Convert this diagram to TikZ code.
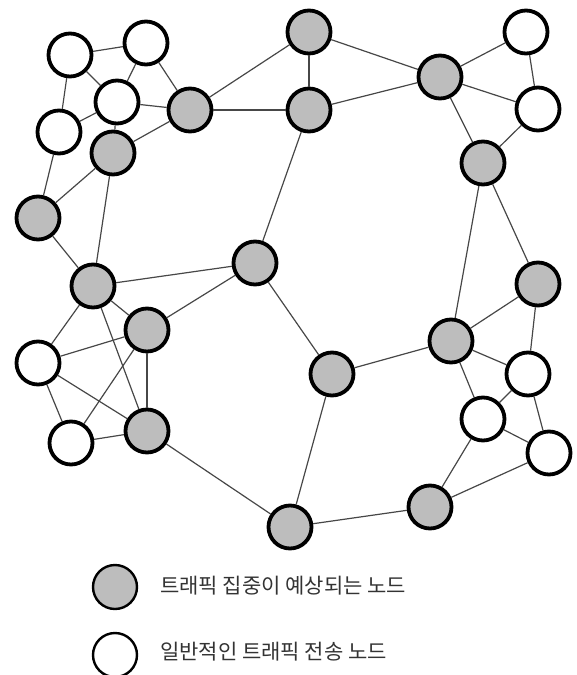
\documentclass[tikz,border=0pt]{standalone}
\usepackage{fontspec}
\newfontfamily\krfont{Noto Sans CJK KR}
\usepackage{tikz}
\tikzset{
  hotnode/.style={
    draw,
    circle,
    line width=3.8pt,
    minimum size=43pt,
    inner sep=0pt,
    fill=gray!52
  },
  plainnode/.style={
    draw,
    circle,
    line width=3.8pt,
    minimum size=43pt,
    inner sep=0pt,
    fill=white
  },
  keynode/.style={
    draw,
    circle,
    line width=2.4pt,
    minimum size=44pt,
    inner sep=0pt
  },
  keytext/.style={
    anchor=west,
    inner sep=0pt,
    text=black!80,
    font=\krfont\fontsize{21}{24}\selectfont
  },
  every edge/.style={draw, line width=1.2pt, black!72}
}

\begin{document}
\begin{tikzpicture}[x=1pt,y=-1pt]
  \useasboundingbox (0,0) rectangle (577,675);

  % traffic hubs
  \node[hotnode] (c1) at (309,32) {};
  \node[hotnode] (c2) at (309,110) {};
  \node[hotnode] (c3) at (190,110) {};
  \node[hotnode] (c4) at (440,77) {};
  \node[hotnode] (c5) at (483,163) {};
  \node[hotnode] (c6) at (113,153) {};
  \node[hotnode] (c7) at (38,218) {};
  \node[hotnode] (c8) at (255,263) {};
  \node[hotnode] (c9) at (93,286) {};
  \node[hotnode] (c10) at (147,330) {};
  \node[hotnode] (c11) at (538,284) {};
  \node[hotnode] (c12) at (451,341) {};
  \node[hotnode] (c13) at (332,374) {};
  \node[hotnode] (c14) at (147,431) {};
  \node[hotnode] (c15) at (290,527) {};
  \node[hotnode] (c16) at (430,507) {};

  % ordinary nodes
  \node[plainnode] (n1) at (70,55) {};
  \node[plainnode] (n2) at (146,43) {};
  \node[plainnode] (n3) at (117,102) {};
  \node[plainnode] (n4) at (59,132) {};
  \node[plainnode] (n5) at (526,32) {};
  \node[plainnode] (n6) at (538,109) {};
  \node[plainnode] (n7) at (38,363) {};
  \node[plainnode] (n8) at (71,443) {};
  \node[plainnode] (n9) at (528,374) {};
  \node[plainnode] (n10) at (483,419) {};
  \node[plainnode] (n11) at (549,453) {};

  \path (n1) edge (n2)
        (n1) edge (n4)
        (n1) edge (n3)
        (n2) edge (n3)
        (n2) edge (c3)
        (n3) edge (c3)
        (n3) edge (n4)
        (n3) edge (c6)
        (c6) edge (c3)
        (c3) edge (c1)
        (c3) edge (c2)
        (n4) edge (c7)
        (c6) edge (c7)
        (c6) edge (c9)
        (c7) edge (c9)
        (c2) edge (c8)
        (c1) edge (c2)
        (c1) edge (c4)
        (c2) edge (c4)
        (c4) edge (n5)
        (c4) edge (n6)
        (n5) edge (n6)
        (c4) edge (c5)
        (n6) edge (c5)
        (c5) edge (c12)
        (c5) edge (c11)
        (c9) edge (c8)
        (c9) edge (c10)
        (c10) edge (c8)
        (c8) edge (c13)
        (c9) edge (n7)
        (c9) edge (c14)
        (n7) edge (c10)
        (n7) edge (c14)
        (n7) edge (n8)
        (n8) edge (c10)
        (n8) edge (c14)
        (c10) edge (c14)
        (c14) edge (c15)
        (c13) edge (c12)
        (c13) edge (c15)
        (c12) edge (c11)
        (c12) edge (n9)
        (c12) edge (n10)
        (c11) edge (n9)
        (n9) edge (n10)
        (n9) edge (n11)
        (n10) edge (n11)
        (n10) edge (c16)
        (c16) edge (n11)
        (c16) edge (c15);

  % legend
  \node[keynode, fill=gray!52] (keyhot) at (115,587) {};
  \node[keynode, fill=white] (keyplain) at (115,655) {};
  \node[keytext] (hottext) at (160,586) {트래픽 집중이 예상되는 노드};
  \node[keytext] (plaintext) at (160,652) {일반적인 트래픽 전송 노드};
\end{tikzpicture}
\end{document}
